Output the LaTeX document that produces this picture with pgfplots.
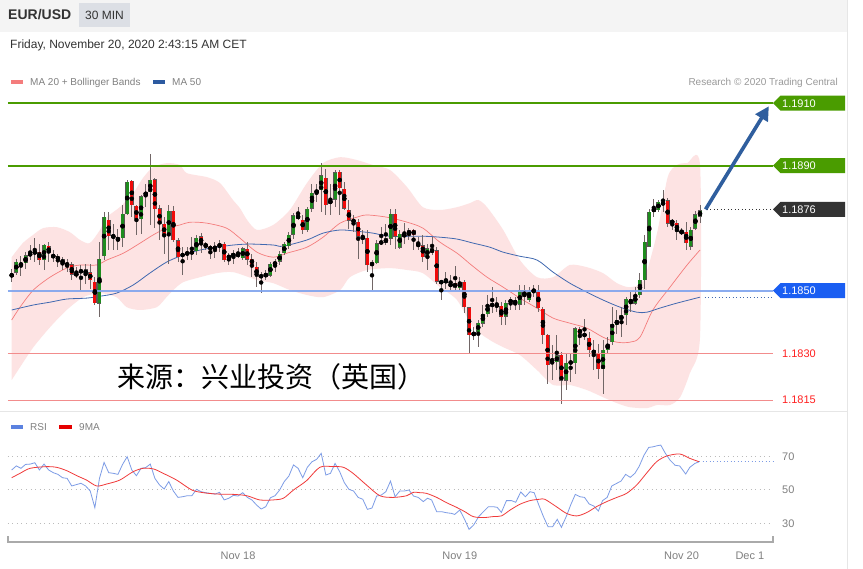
\documentclass[border=0pt]{standalone}
\usepackage{pgfplots}
\pgfplotsset{compat=1.18}
\usepackage{pgfplotstable}
\usepackage{fontspec}
\setmainfont{Liberation Sans}
\newfontfamily\cjk{Noto Sans CJK SC}
\usetikzlibrary{arrows.meta}

\definecolor{hdrbg}{HTML}{F4F4F4}
\definecolor{minbg}{HTML}{DCDFE5}
\definecolor{txtdark}{HTML}{333333}
\definecolor{txtgray}{HTML}{808080}
\definecolor{bandfill}{HTML}{FDE3E3}
\definecolor{ma20}{HTML}{F47C7C}
\definecolor{ma50}{HTML}{4169B0}
\definecolor{ma50leg}{HTML}{2C5AA0}
\definecolor{cgreen}{HTML}{1E8C1E}
\definecolor{cred}{HTML}{F00A0A}
\definecolor{cedge}{HTML}{5C5656}
\definecolor{wick}{HTML}{716666}
\definecolor{lgreen}{HTML}{4A9C00}
\definecolor{tagdark}{HTML}{333333}
\definecolor{tagblue}{HTML}{1A5EF2}
\definecolor{lblue}{HTML}{7FA3EE}
\definecolor{lred}{HTML}{F28C8C}
\definecolor{tred}{HTML}{FF2020}
\definecolor{arrowblue}{HTML}{2F5E9E}
\definecolor{rsiblue}{HTML}{7D9CE6}
\definecolor{rsired}{HTML}{F03A3A}
\definecolor{rsileg}{HTML}{5B82E0}
\definecolor{gridgray}{HTML}{BBBBBB}
\definecolor{sepgray}{HTML}{E6E6E6}
\definecolor{axgray}{HTML}{AAAAAA}

\pgfplotstableread{
i o h l c
0 1.18545 1.18571 1.18529 1.18555
1 1.18557 1.18603 1.18550 1.18593
2 1.18587 1.18614 1.18550 1.18583
3 1.18589 1.18625 1.18571 1.18614
4 1.18614 1.18646 1.18598 1.18619
5 1.18619 1.18667 1.18593 1.18627
6 1.18625 1.18651 1.18582 1.18598
7 1.18598 1.18651 1.18568 1.18646
8 1.18643 1.18657 1.18593 1.18619
9 1.18614 1.18630 1.18593 1.18606
10 1.18609 1.18619 1.18577 1.18600
11 1.18601 1.18609 1.18566 1.18587
12 1.18581 1.18603 1.18561 1.18587
13 1.18585 1.18593 1.18534 1.18552
14 1.18548 1.18577 1.18539 1.18558
15 1.18561 1.18582 1.18502 1.18566
16 1.18568 1.18585 1.18523 1.18552
17 1.18558 1.18587 1.18507 1.18534
18 1.18529 1.18545 1.18454 1.18459
19 1.18459 1.18657 1.18416 1.18603
20 1.18611 1.18753 1.18598 1.18737
21 1.18729 1.18753 1.18630 1.18676
22 1.18673 1.18715 1.18630 1.18677
23 1.18667 1.18699 1.18630 1.18664
24 1.18667 1.18774 1.18641 1.18745
25 1.18745 1.18854 1.18742 1.18849
26 1.18852 1.18854 1.18737 1.18774
27 1.18772 1.18774 1.18678 1.18729
28 1.18729 1.18806 1.18683 1.18803
29 1.18804 1.18843 1.18769 1.18817
30 1.18817 1.18939 1.18710 1.18856
31 1.18856 1.18859 1.18699 1.18760
32 1.18763 1.18774 1.18662 1.18713
33 1.18715 1.18737 1.18619 1.18678
34 1.18681 1.18774 1.18587 1.18755
35 1.18756 1.18771 1.18657 1.18662
36 1.18662 1.18667 1.18593 1.18609
37 1.18619 1.18641 1.18550 1.18611
38 1.18614 1.18641 1.18598 1.18625
39 1.18619 1.18673 1.18598 1.18627
40 1.18627 1.18678 1.18614 1.18670
41 1.18675 1.18683 1.18619 1.18649
42 1.18651 1.18657 1.18630 1.18641
43 1.18635 1.18646 1.18603 1.18638
44 1.18635 1.18657 1.18603 1.18641
45 1.18649 1.18662 1.18625 1.18643
46 1.18651 1.18657 1.18593 1.18598
47 1.18614 1.18621 1.18582 1.18603
48 1.18609 1.18630 1.18587 1.18622
49 1.18611 1.18635 1.18603 1.18619
50 1.18603 1.18641 1.18598 1.18635
51 1.18635 1.18657 1.18582 1.18600
52 1.18601 1.18619 1.18545 1.18585
53 1.18577 1.18593 1.18513 1.18545
54 1.18548 1.18561 1.18491 1.18545
55 1.18545 1.18566 1.18534 1.18558
56 1.18548 1.18593 1.18545 1.18587
57 1.18589 1.18603 1.18561 1.18585
58 1.18593 1.18625 1.18582 1.18619
59 1.18619 1.18657 1.18614 1.18649
60 1.18643 1.18689 1.18635 1.18680
61 1.18680 1.18749 1.18667 1.18742
62 1.18742 1.18769 1.18726 1.18731
63 1.18729 1.18742 1.18683 1.18694
64 1.18694 1.18769 1.18689 1.18763
65 1.18763 1.18843 1.18753 1.18814
66 1.18814 1.18843 1.18785 1.18822
67 1.18822 1.18907 1.18753 1.18870
68 1.18861 1.18891 1.18742 1.18774
69 1.18777 1.18843 1.18742 1.18792
70 1.18792 1.18886 1.18769 1.18879
71 1.18881 1.18886 1.18742 1.18827
72 1.18827 1.18849 1.18758 1.18763
73 1.18758 1.18790 1.18699 1.18724
74 1.18726 1.18742 1.18689 1.18721
75 1.18721 1.18731 1.18603 1.18673
76 1.18673 1.18694 1.18651 1.18667
77 1.18669 1.18694 1.18561 1.18582
78 1.18582 1.18598 1.18502 1.18589
79 1.18589 1.18662 1.18587 1.18653
80 1.18657 1.18705 1.18646 1.18651
81 1.18653 1.18715 1.18646 1.18667
82 1.18667 1.18763 1.18646 1.18747
83 1.18747 1.18763 1.18635 1.18673
84 1.18638 1.18694 1.18635 1.18683
85 1.18683 1.18717 1.18649 1.18673
86 1.18680 1.18702 1.18662 1.18694
87 1.18694 1.18699 1.18630 1.18678
88 1.18649 1.18673 1.18630 1.18646
89 1.18646 1.18678 1.18593 1.18609
90 1.18609 1.18651 1.18566 1.18635
91 1.18635 1.18673 1.18614 1.18621
92 1.18630 1.18641 1.18523 1.18529
93 1.18523 1.18534 1.18470 1.18532
94 1.18536 1.18561 1.18507 1.18525
95 1.18521 1.18550 1.18502 1.18518
96 1.18525 1.18577 1.18502 1.18510
97 1.18509 1.18545 1.18502 1.18529
98 1.18529 1.18534 1.18429 1.18448
99 1.18448 1.18448 1.18299 1.18358
100 1.18355 1.18384 1.18342 1.18368
101 1.18368 1.18406 1.18320 1.18397
102 1.18395 1.18454 1.18384 1.18427
103 1.18427 1.18486 1.18416 1.18456
104 1.18456 1.18513 1.18427 1.18452
105 1.18455 1.18481 1.18432 1.18452
106 1.18452 1.18465 1.18390 1.18416
107 1.18416 1.18470 1.18390 1.18462
108 1.18470 1.18481 1.18438 1.18465
109 1.18470 1.18481 1.18438 1.18459
110 1.18456 1.18518 1.18438 1.18502
111 1.18502 1.18518 1.18454 1.18481
112 1.18470 1.18513 1.18465 1.18497
113 1.18499 1.18518 1.18481 1.18502
114 1.18497 1.18518 1.18432 1.18443
115 1.18443 1.18448 1.18331 1.18358
116 1.18360 1.18363 1.18203 1.18264
117 1.18283 1.18326 1.18214 1.18272
118 1.18272 1.18358 1.18246 1.18294
119 1.18294 1.18304 1.18139 1.18212
120 1.18212 1.18299 1.18182 1.18269
121 1.18272 1.18299 1.18208 1.18269
122 1.18267 1.18384 1.18235 1.18379
123 1.18379 1.18384 1.18326 1.18360
124 1.18360 1.18411 1.18342 1.18356
125 1.18349 1.18368 1.18288 1.18310
126 1.18310 1.18344 1.18246 1.18299
127 1.18302 1.18331 1.18219 1.18250
128 1.18251 1.18342 1.18171 1.18312
129 1.18310 1.18352 1.18299 1.18331
130 1.18336 1.18448 1.18326 1.18395
131 1.18390 1.18438 1.18363 1.18408
132 1.18406 1.18448 1.18352 1.18425
133 1.18422 1.18481 1.18390 1.18475
134 1.18475 1.18497 1.18432 1.18459
135 1.18459 1.18513 1.18454 1.18486
136 1.18486 1.18555 1.18475 1.18536
137 1.18534 1.18678 1.18507 1.18657
138 1.18641 1.18763 1.18641 1.18753
139 1.18753 1.18795 1.18737 1.18763
140 1.18758 1.18790 1.18753 1.18785
141 1.18777 1.18824 1.18753 1.18781
142 1.18790 1.18795 1.18705 1.18715
143 1.18726 1.18731 1.18694 1.18715
144 1.18717 1.18726 1.18662 1.18689
145 1.18694 1.18702 1.18678 1.18683
146 1.18689 1.18721 1.18630 1.18653
147 1.18641 1.18705 1.18630 1.18696
148 1.18699 1.18756 1.18694 1.18745
149 1.18737 1.18774 1.18717 1.18758
}\candles

\newcommand{\ptag}[3]{%
  \fill[#2] (axis cs:164.8,#1) -- ([xshift=7.5pt,yshift=7.5pt]axis cs:164.8,#1) -- ([xshift=72pt,yshift=7.5pt]axis cs:164.8,#1) -- ([xshift=72pt,yshift=-7.5pt]axis cs:164.8,#1) -- ([xshift=7.5pt,yshift=-7.5pt]axis cs:164.8,#1) -- cycle;
  \node[anchor=base west, inner sep=0pt, text=white, font=\fontsize{11}{13}\selectfont] at ([xshift=9pt,yshift=-4pt]axis cs:164.8,#1) {#3};%
}

\begin{document}
\begin{tikzpicture}[x=1pt,y=1pt]
\useasboundingbox (0,0) rectangle (863,-569);
\fill[white] (0,0) rectangle (863,-569);
\fill[hdrbg] (0,0) rectangle (847,-32);
\fill[minbg] (79,-3) rectangle (130,-27);
\node[anchor=base west, inner sep=0pt, text=txtdark, font=\bfseries\fontsize{14}{16}\selectfont] at (8,-20) {EUR/USD};
\node[anchor=base, inner sep=0pt, text=txtdark, font=\fontsize{12}{14}\selectfont] at (104.5,-19.3) {30 MIN};
\node[anchor=base west, inner sep=0pt, text=txtdark, font=\fontsize{12}{14}\selectfont] at (10,-48.8) {Friday, November 20, 2020 2:43:15 AM CET};
\fill[ma20] (11,-80) rectangle (23,-84);
\node[anchor=base west, inner sep=0pt, text=txtgray, font=\fontsize{10}{12}\selectfont] at (30,-85.6) {MA 20 + Bollinger Bands};
\fill[ma50leg] (153,-80) rectangle (165,-84);
\node[anchor=base west, inner sep=0pt, text=txtgray, font=\fontsize{10}{12}\selectfont] at (172,-85.6) {MA 50};
\node[anchor=base east, inner sep=0pt, text=gray!80, font=\fontsize{10}{12}\selectfont] at (838,-85.6) {Research © 2020 Trading Central};
\draw[sepgray, line width=1pt] (0,-412) -- (847,-412);
\draw[sepgray, line width=1pt] (847,0) -- (847,-569);

% ---------------- main price panel ----------------
\begin{axis}[at={(8pt,-410pt)}, anchor=south west, scale only axis,
  width=765pt, height=320pt,
  xmin=-0.8, xmax=164.8, ymin=1.18118, ymax=1.19142,
  hide axis, clip=false]

% Bollinger band
\addplot[fill=bandfill, draw=none, smooth, tension=0.45] coordinates {
(0,1.18607) (2.4,1.18652) (4.6,1.18678) (6.8,1.18700) (9.8,1.18703) (12.6,1.18687)
(14.8,1.18662) (16.9,1.18652) (19.1,1.18694) (20.6,1.18735) (23.4,1.18767) (26.3,1.18812)
(28.4,1.18860) (30.6,1.18895) (33.6,1.18908) (36.4,1.18902) (37.9,1.18876) (42.3,1.18863)
(45.1,1.18844) (47.9,1.18790) (49.4,1.18764) (51.0,1.18725) (53.1,1.18694) (56.6,1.18710)
(60.2,1.18758) (63.9,1.18844) (67.4,1.18908) (71.1,1.18927) (74.7,1.18918) (78.2,1.18902)
(81.9,1.18886) (85.6,1.18831) (89.0,1.18767) (92.7,1.18758) (96.4,1.18767) (99.2,1.18780)
(101.0,1.18790) (102.9,1.18767) (106.4,1.18694) (110.0,1.18598) (113.7,1.18543) (117.2,1.18543)
(120.8,1.18582) (124.5,1.18575) (128.0,1.18556) (131.0,1.18524) (133.8,1.18511) (136.8,1.18534)
(139.7,1.18684) (142.0,1.18863) (144.0,1.18902) (146.2,1.18908) (149,1.18902)
(149,1.18351) (146.8,1.18236) (144.7,1.18159) (142.5,1.18134) (139.7,1.18134) (137.5,1.18124)
(133.8,1.18127) (131.0,1.18140) (128.0,1.18159) (124.5,1.18182) (120.8,1.18198) (117.2,1.18198)
(113.7,1.18246) (110.0,1.18294) (106.4,1.18319) (103.5,1.18342) (99.9,1.18383) (96.4,1.18470)
(92.7,1.18511) (89.0,1.18556) (85.6,1.18566) (81.9,1.18572) (76.9,1.18566) (73.2,1.18543)
(71.1,1.18502) (67.4,1.18479) (63.9,1.18486) (60.2,1.18502) (56.6,1.18524) (53.1,1.18534)
(48.0,1.18559) (44.4,1.18556) (40.8,1.18543) (37.1,1.18527) (35.0,1.18502) (33.5,1.18479)
(31.4,1.18447) (27.8,1.18438) (24.9,1.18447) (22.7,1.18479) (19.1,1.18492) (15.5,1.18479)
(11.9,1.18438) (8.3,1.18383) (4.7,1.18319) (1.8,1.18255) (0,1.18214)
} -- cycle;

% MA 20
\addplot[ma20, line width=0.7pt, smooth, tension=0.5] coordinates {
(0,1.18406) (1.8,1.18447) (4.7,1.18502) (8.3,1.18543) (11.9,1.18572) (14.8,1.18582)
(18.4,1.18582) (20.6,1.18598) (24.2,1.18620) (27.8,1.18652) (30.6,1.18678) (33.5,1.18700)
(36.4,1.18710) (38.6,1.18719) (42.2,1.18716) (46.5,1.18700) (49.4,1.18668) (53.1,1.18623)
(56.6,1.18607) (59.6,1.18620) (63.9,1.18639) (67.4,1.18671) (71.1,1.18716) (74.7,1.18735)
(76.9,1.18742) (81.2,1.18735) (85.6,1.18719) (89.0,1.18700) (92.7,1.18655) (96.4,1.18620)
(99.5,1.18582) (102.9,1.18543) (106.4,1.18511) (110.0,1.18476) (113.7,1.18444) (117.2,1.18412)
(120.8,1.18396) (124.5,1.18380) (128.0,1.18351) (131.0,1.18335) (133.8,1.18335) (136.0,1.18351)
(138.8,1.18438) (142.5,1.18511) (146.2,1.18582) (149,1.18630)
};

% MA 50
\addplot[ma50, line width=0.8pt, smooth, tension=0.5] coordinates {
(0,1.18438) (4.7,1.18454) (8.3,1.18463) (11.9,1.18473) (16.2,1.18476) (19.1,1.18482)
(22.7,1.18492) (26.3,1.18518) (29.9,1.18556) (33.5,1.18591) (37.1,1.18614) (40.8,1.18630)
(44.4,1.18639) (48.0,1.18646) (51.6,1.18649) (56.6,1.18646) (58.7,1.18642) (63.9,1.18662)
(67.4,1.18684) (71.1,1.18694) (74.7,1.18690) (78.2,1.18684) (81.9,1.18674) (89.0,1.18674)
(92.7,1.18671) (96.4,1.18665) (99.9,1.18652) (103.5,1.18639) (106.4,1.18623) (110.0,1.18610)
(113.7,1.18598) (117.2,1.18559) (120.8,1.18524) (124.5,1.18495) (128.0,1.18470) (131.7,1.18447)
(135.3,1.18431) (137.5,1.18431) (140.3,1.18444) (144.0,1.18460) (149,1.18479)
};

% wicks
\addplot[only marks, mark=none, error bars/.cd, y dir=both, y explicit, error mark=none,
  error bar style={wick, line width=1pt}]
  table[x=i, y expr=(\thisrow{h}+\thisrow{l})/2, y error expr=(\thisrow{h}-\thisrow{l})/2] {\candles};
% bodies: edge
\addplot[only marks, mark=none, error bars/.cd, y dir=both, y explicit, error mark=none,
  error bar style={cedge, line width=4pt}]
  table[x=i, y expr=(\thisrow{o}+\thisrow{c})/2, y error expr={max(abs(\thisrow{c}-\thisrow{o})/2,0.00003)}] {\candles};
% bodies: green
\addplot[only marks, mark=none, restrict expr to domain={\thisrow{c}-\thisrow{o}}{0:1},
  error bars/.cd, y dir=both, y explicit, error mark=none,
  error bar style={cgreen, line width=3pt}]
  table[x=i, y expr=(\thisrow{o}+\thisrow{c})/2, y error expr={max(abs(\thisrow{c}-\thisrow{o})/2-0.000012,0.00002)}] {\candles};
% bodies: red
\addplot[only marks, mark=none, restrict expr to domain={\thisrow{c}-\thisrow{o}}{-1:-0.000001},
  error bars/.cd, y dir=both, y explicit, error mark=none,
  error bar style={cred, line width=3pt}]
  table[x=i, y expr=(\thisrow{o}+\thisrow{c})/2, y error expr={max(abs(\thisrow{c}-\thisrow{o})/2-0.000012,0.00002)}] {\candles};

% levels
\draw[lgreen, line width=2pt] (axis cs:-0.8,1.1910) -- (axis cs:164.8,1.1910);
\draw[lgreen, line width=2pt] (axis cs:-0.8,1.1890) -- (axis cs:164.8,1.1890);
\draw[lblue, line width=2pt, opacity=0.9] (axis cs:-0.8,1.1850) -- (axis cs:164.8,1.1850);
\draw[lred, line width=0.9pt] (axis cs:-0.8,1.1830) -- (axis cs:164.8,1.1830);
\draw[lred, line width=0.9pt] (axis cs:-0.8,1.1815) -- (axis cs:164.8,1.1815);
\draw[tagdark, line width=0.9pt, dash pattern=on 1pt off 2.5pt] (axis cs:150.5,1.18760) -- (axis cs:164.8,1.18760);
\draw[ma50, line width=0.9pt, dash pattern=on 1pt off 2.5pt] (axis cs:150,1.18479) -- (axis cs:164.8,1.18479);

% arrow
\draw[arrowblue, line width=3.6pt, -{Triangle[length=14pt,width=14pt]}] (axis cs:150.2,1.18760) -- (axis cs:163.9,1.19090);

% tags
\ptag{1.1910}{lgreen}{1.1910}
\ptag{1.1890}{lgreen}{1.1890}
\ptag{1.1876}{tagdark}{1.1876}
\ptag{1.1850}{tagblue}{1.1850}
\node[anchor=base west, inner sep=0pt, text=tred, font=\fontsize{11}{13}\selectfont] at ([xshift=9pt,yshift=-4pt]axis cs:164.8,1.1830) {1.1830};
\node[anchor=base west, inner sep=0pt, text=tred, font=\fontsize{11}{13}\selectfont] at ([xshift=9pt,yshift=-4pt]axis cs:164.8,1.1815) {1.1815};
\end{axis}

\node[anchor=base west, inner sep=0pt, text=black, font=\cjk\fontsize{28}{30}\selectfont] at (117,-388) {来源：兴业投资（英国）};

% ---------------- RSI panel ----------------
\fill[rsileg] (11,-425) rectangle (23,-429);
\node[anchor=base west, inner sep=0pt, text=txtgray, font=\fontsize{10}{12}\selectfont] at (30,-430.7) {RSI};
\fill[red!90!black] (59,-425) rectangle (72,-429);
\node[anchor=base west, inner sep=0pt, text=txtgray, font=\fontsize{10}{12}\selectfont] at (79,-430.7) {9MA};

\begin{axis}[at={(8pt,-542pt)}, anchor=south west, scale only axis,
  width=765pt, height=122pt,
  xmin=-0.8, xmax=164.8, ymin=18.9, ymax=91.4,
  hide axis, clip=false]
\draw[gridgray, line width=0.8pt, dash pattern=on 1pt off 3.5pt] (axis cs:-0.8,70) -- (axis cs:164.8,70);
\draw[gridgray, line width=0.8pt, dash pattern=on 1pt off 3.5pt] (axis cs:-0.8,50) -- (axis cs:164.8,50);
\draw[gridgray, line width=0.8pt, dash pattern=on 1pt off 3.5pt] (axis cs:-0.8,30) -- (axis cs:164.8,30);
\node[anchor=base west, inner sep=0pt, text=gray, font=\fontsize{11}{13}\selectfont] at ([xshift=9pt,yshift=-4pt]axis cs:164.8,70) {70};
\node[anchor=base west, inner sep=0pt, text=gray, font=\fontsize{11}{13}\selectfont] at ([xshift=9pt,yshift=-4pt]axis cs:164.8,50) {50};
\node[anchor=base west, inner sep=0pt, text=gray, font=\fontsize{11}{13}\selectfont] at ([xshift=9pt,yshift=-4pt]axis cs:164.8,30) {30};

\addplot[rsiblue, line width=0.8pt] coordinates {
(0,61.7) (1,64.1) (2,62.7) (3,65.0) (4,65.2) (5,66.0) (6,61.7) (7,65.2) (8,61.7) (9,60.1)
(10,59.1) (11,57.1) (12,56.7) (13,52.2) (14,53.0) (15,53.8) (16,52.2) (17,49.2) (18,39.3) (19,56.7)
(20,66.2) (21,60.1) (22,59.7) (23,59.1) (24,65.0) (25,69.6) (26,61.7) (27,58.3) (28,62.7) (29,63.1)
(30,65.2) (31,56.7) (32,52.8) (33,50.4) (34,54.8) (35,49.2) (36,45.4) (37,45.8) (38,46.4) (39,46.4)
(40,50.2) (41,48.8) (42,48.2) (43,47.8) (44,47.4) (45,48.4) (46,43.9) (47,44.9) (48,46.6) (49,46.2)
(50,48.2) (51,45.4) (52,43.9) (53,40.9) (54,38.5) (55,39.9) (56,45.2) (57,46.4) (58,49.8) (59,54.8)
(60,58.1) (61,64.7) (62,62.7) (63,57.1) (64,63.3) (65,66.6) (66,68.0) (67,71.6) (68,58.7) (69,59.7)
(70,65.6) (71,60.7) (72,54.2) (73,50.2) (74,49.2) (75,45.4) (76,44.3) (77,38.3) (78,39.1) (79,46.2)
(80,46.8) (81,48.8) (82,55.1) (83,45.8) (84,49.2) (85,49.2) (86,49.8) (87,46.2) (88,45.4)
(89.1,42.9) (90.0,44.9) (90.9,43.9) (92.0,36.9) (93.1,36.9) (94.1,36.3) (95.2,35.9) (95.9,35.3)
(97.0,37.9) (98.1,32.0) (99.0,26.4) (100.0,29.0) (101.1,34.0) (102.1,36.9) (103.2,39.9) (104.2,39.9)
(105.1,39.5) (106.0,36.5) (107.1,43.5) (108.2,43.5) (109.1,42.5) (110.2,48.6) (111.2,45.8) (112.2,48.8)
(113.1,48.2) (114.1,40.9) (115.1,34.0) (116.1,28.0) (117.1,28.0) (118.1,32.4) (119.0,27.6) (120.1,34.4)
(121.0,40.9) (122.0,47.2) (123.0,45.8) (124.0,45.4) (125.0,41.5) (126.0,40.3) (127.0,37.3) (127.9,43.5)
(128.9,45.4) (129.9,52.2) (131.0,53.8) (131.9,55.1) (132.9,59.1) (133.9,57.3) (134.9,59.7) (135.8,63.7)
(136.9,70.6) (137.9,75.1) (138.9,75.5) (139.7,76.1) (140.5,76.5) (141.5,71.6) (142.5,67.6) (143.6,64.5)
(144.6,64.1) (145.9,59.3) (146.8,63.3) (147.9,65.6) (148.8,66.6)
};
\addplot[rsired, line width=0.8pt, smooth, tension=0.5] coordinates {
(0,57.1) (1.8,59.7) (4.0,62.7) (7.6,63.7) (9.7,63.3) (11.9,61.3) (14.1,58.3) (16.2,55.7)
(18.4,52.2) (20.6,53.4) (23.4,55.7) (26.3,60.7) (28.5,62.7) (30.7,62.3) (32.8,59.7) (35.7,55.7)
(39.0,49.8) (41.5,48.2) (44.4,47.4) (48.0,47.2) (50.9,46.4) (53.7,43.9) (56.6,43.9) (58.8,44.9)
(61.0,49.8) (63.8,55.3) (66.7,63.3) (69.6,63.7) (71.8,63.3) (73.9,59.7) (76.8,52.8) (79.7,46.4)
(82.6,45.4) (85.5,46.4) (86.9,48.4) (88.4,48.2) (89.8,47.8) (92.0,45.4) (94.1,42.3) (96.3,39.5)
(98.1,36.9) (99.9,34.0) (102.1,33.4) (104.2,34.0) (106.0,34.4) (107.9,37.9) (110.0,41.3) (112.2,43.5)
(114.3,44.3) (115.4,44.3) (117.9,39.9) (120.1,35.9) (122.3,34.4) (124.4,36.3) (126.6,39.9) (128.8,42.9)
(131.0,45.4) (133.1,47.8) (135.3,52.8) (137.4,59.7) (139.6,66.6) (141.8,70.0) (144.6,71.2) (146.8,68.6)
(148.8,66.6)
};
\draw[rsiblue, line width=0.9pt, dash pattern=on 1pt off 2.5pt] (axis cs:148.8,66.6) -- (axis cs:164.8,66.6);

\node[anchor=base, inner sep=0pt, text=gray, font=\fontsize{11}{13}\selectfont] at ([yshift=-17pt]axis cs:49,18.9) {Nov 18};
\node[anchor=base, inner sep=0pt, text=gray, font=\fontsize{11}{13}\selectfont] at ([yshift=-17pt]axis cs:97,18.9) {Nov 19};
\node[anchor=base, inner sep=0pt, text=gray, font=\fontsize{11}{13}\selectfont] at ([yshift=-17pt]axis cs:145,18.9) {Nov 20};
\node[anchor=base, inner sep=0pt, text=gray, font=\fontsize{11}{13}\selectfont] at ([yshift=-17pt]axis cs:159.8,18.9) {Dec 1};
\end{axis}
\draw[axgray, line width=1.6pt] (8,-536) -- (8,-542) -- (773,-542) -- (773,-536);
\end{tikzpicture}
\end{document}
